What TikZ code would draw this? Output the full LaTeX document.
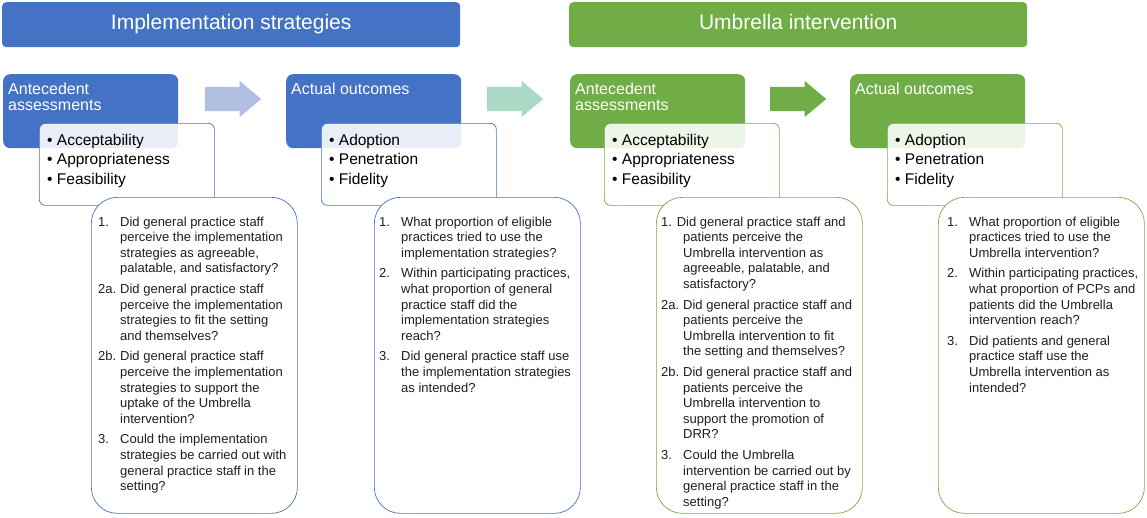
\documentclass[tikz,border=0pt]{standalone}
\usepackage{fontspec}
\setmainfont{Liberation Sans}
\usetikzlibrary{positioning,calc,shapes.arrows}

\definecolor{impblue}{HTML}{4472C4}
\definecolor{umbgreen}{HTML}{70AD47}
\definecolor{flowblue}{RGB}{176,190,226}
\definecolor{flowteal}{RGB}{170,218,198}

\newcommand{\qn}[1]{\makebox[22pt][l]{#1}}

\begin{document}
\begin{tikzpicture}[
    x=1pt,
    y=-1pt,
    header/.style={
        fill=#1,
        rounded corners=4pt,
        anchor=north west,
        minimum width=458pt,
        minimum height=45pt,
        inner sep=0pt,
        text height=15pt,
        text depth=4.5pt,
        text=white,
        font=\fontsize{21}{25}\selectfont
    },
    stage/.style={
        fill=#1,
        rounded corners=7pt,
        anchor=north west,
        minimum width=175pt,
        minimum height=74pt,
        inner sep=0pt
    },
    stagetext/.style={
        anchor=base west,
        inner sep=0pt,
        text=white,
        font=\fontsize{16}{16.5}\selectfont
    },
    itembox/.style={
        draw=#1,
        fill=white,
        fill opacity=0.88,
        line width=0.7pt,
        rounded corners=6pt,
        anchor=north west,
        minimum width=175pt,
        minimum height=82pt,
        inner sep=0pt
    },
    itemtext/.style={
        anchor=base west,
        inner sep=0pt,
        font=\fontsize{15.5}{19.5}\selectfont
    },
    qbox/.style={
        draw=#1,
        fill=white,
        line width=0.7pt,
        rounded corners=26pt,
        anchor=north west,
        minimum width=206pt,
        minimum height=316pt,
        inner sep=0pt
    },
    qtext/.style={
        anchor=base west,
        inner sep=0pt,
        text=black!88,
        font=\fontsize{13}{15.6}\selectfont
    },
    flow/.style={
        shape=single arrow,
        fill=#1,
        anchor=tail,
        minimum height=56pt,
        inner xsep=0pt,
        inner ysep=12pt,
        single arrow head extend=6pt,
        single arrow head indent=0pt,
        single arrow tip angle=80
    }
]
    \useasboundingbox (0,0) rectangle (1147,517);

    % headers
    \node[header=impblue] (hdr_imp) at (2,2) {Implementation strategies};
    \node[header=umbgreen] (hdr_umb) at (569,2) {Umbrella intervention};

    % stage boxes
    \node[stage=impblue] (ante_imp) at (3,74) {};
    \node[stage=impblue] (out_imp) at (286,74) {};
    \node[stage=umbgreen] (ante_umb) at (570,74) {};
    \node[stage=umbgreen] (out_umb) at (850,74) {};

    \node[stagetext] (ante_imp_t) at ($(ante_imp.north west)+(5,20)$)
        {\begin{tabular}[t]{@{}l@{}}Antecedent\\assessments\end{tabular}};
    \node[stagetext] (out_imp_t) at ($(out_imp.north west)+(5,20)$) {Actual outcomes};
    \node[stagetext] (ante_umb_t) at ($(ante_umb.north west)+(5,20)$)
        {\begin{tabular}[t]{@{}l@{}}Antecedent\\assessments\end{tabular}};
    \node[stagetext] (out_umb_t) at ($(out_umb.north west)+(5,20)$) {Actual outcomes};

    % arrows between stages
    \node[flow=flowblue] (flow_a) at (205,99) {};
    \node[flow=flowteal] (flow_b) at (487,99) {};
    \node[flow=umbgreen] (flow_c) at (770,99) {};

    % outcome lists
    \node[itembox=impblue] (ante_imp_i) at ($(ante_imp.north west)+(36,49)$) {};
    \node[itembox=impblue] (out_imp_i) at ($(out_imp.north west)+(35,49)$) {};
    \node[itembox=umbgreen] (ante_umb_i) at ($(ante_umb.north west)+(34,49)$) {};
    \node[itembox=umbgreen] (out_umb_i) at ($(out_umb.north west)+(37,49)$) {};

    \node[itemtext] at ($(ante_imp_i.north west)+(8,22)$)
        {\begin{tabular}[t]{@{}l@{}}• Acceptability\\• Appropriateness\\• Feasibility\end{tabular}};
    \node[itemtext] at ($(out_imp_i.north west)+(8,22)$)
        {\begin{tabular}[t]{@{}l@{}}• Adoption\\• Penetration\\• Fidelity\end{tabular}};
    \node[itemtext] at ($(ante_umb_i.north west)+(8,22)$)
        {\begin{tabular}[t]{@{}l@{}}• Acceptability\\• Appropriateness\\• Feasibility\end{tabular}};
    \node[itemtext] at ($(out_umb_i.north west)+(8,22)$)
        {\begin{tabular}[t]{@{}l@{}}• Adoption\\• Penetration\\• Fidelity\end{tabular}};

    % question boxes
    \node[qbox=impblue] (q_ante_imp) at (91,197) {};
    \node[qbox=impblue] (q_out_imp) at (374,197) {};
    \node[qbox=umbgreen] (q_ante_umb) at (656,197) {};
    \node[qbox=umbgreen] (q_out_umb) at (938,197) {};

    \node[qtext] at ($(q_ante_imp.north west)+(7,29)$) {%
        \begin{tabular}[t]{@{}l@{}l@{}}
        \qn{1.} & Did general practice staff\\
                & perceive the implementation\\
                & strategies as agreeable,\\
                & palatable, and satisfactory?\\[5pt]
        \qn{2a.} & Did general practice staff\\
                 & perceive the implementation\\
                 & strategies to fit the setting\\
                 & and themselves?\\[5pt]
        \qn{2b.} & Did general practice staff\\
                 & perceive the implementation\\
                 & strategies to support the\\
                 & uptake of the Umbrella\\
                 & intervention?\\[5pt]
        \qn{3.} & Could the implementation\\
                & strategies be carried out with\\
                & general practice staff in the\\
                & setting?
        \end{tabular}};

    \node[qtext] at ($(q_out_imp.north west)+(5,29)$) {%
        \begin{tabular}[t]{@{}l@{}l@{}}
        \qn{1.} & What proportion of eligible\\
                & practices tried to use the\\
                & implementation strategies?\\[5pt]
        \qn{2.} & Within participating practices,\\
                & what proportion of general\\
                & practice staff did the\\
                & implementation strategies\\
                & reach?\\[5pt]
        \qn{3.} & Did general practice staff use\\
                & the implementation strategies\\
                & as intended?
        \end{tabular}};

    \node[qtext] at ($(q_ante_umb.north west)+(5,29)$) {%
        \begin{tabular}[t]{@{}l@{}l@{}}
        \multicolumn{2}{@{}l@{}}{1. Did general practice staff and}\\
                & patients perceive the\\
                & Umbrella intervention as\\
                & agreeable, palatable, and\\
                & satisfactory?\\[5pt]
        \qn{2a.} & Did general practice staff and\\
                 & patients perceive the\\
                 & Umbrella intervention to fit\\
                 & the setting and themselves?\\[5pt]
        \qn{2b.} & Did general practice staff and\\
                 & patients perceive the\\
                 & Umbrella intervention to\\
                 & support the promotion of\\
                 & DRR?\\[5pt]
        \qn{3.} & Could the Umbrella\\
                & intervention be carried out by\\
                & general practice staff in the\\
                & setting?
        \end{tabular}};

    \node[qtext] at ($(q_out_umb.north west)+(9,29)$) {%
        \begin{tabular}[t]{@{}l@{}l@{}}
        \qn{1.} & What proportion of eligible\\
                & practices tried to use the\\
                & Umbrella intervention?\\[5pt]
        \qn{2.} & Within participating practices,\\
                & what proportion of PCPs and\\
                & patients did the Umbrella\\
                & intervention reach?\\[5pt]
        \qn{3.} & Did patients and general\\
                & practice staff use the\\
                & Umbrella intervention as\\
                & intended?
        \end{tabular}};
\end{tikzpicture}
\end{document}
